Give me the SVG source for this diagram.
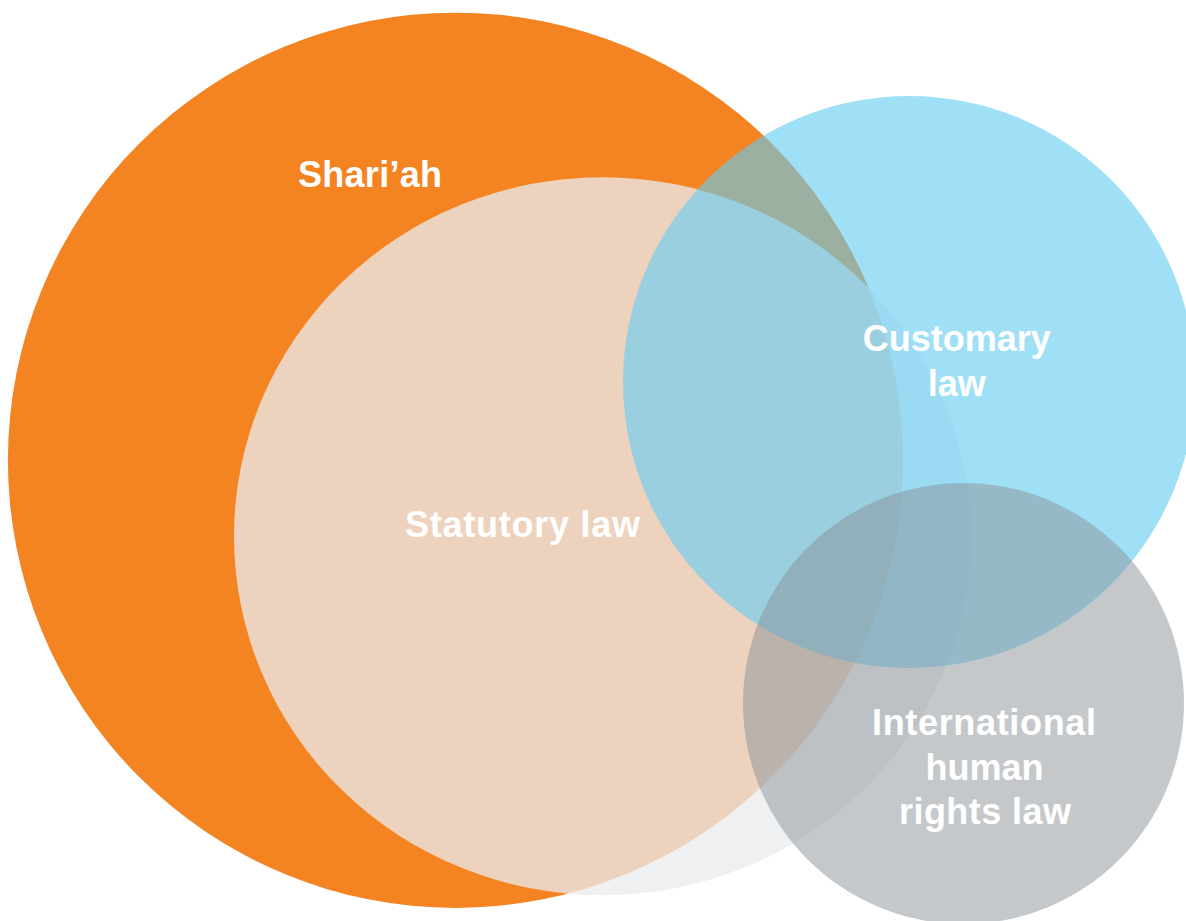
<svg xmlns="http://www.w3.org/2000/svg" width="1186" height="921" viewBox="0 0 1186 921">
<style>
.lbl{font-family:"Liberation Sans",Arial,Helvetica,sans-serif;font-weight:bold;font-size:36px;fill:#ffffff;}
</style>
<rect x="0" y="0" width="1186" height="921" fill="#ffffff"/>
<g id="shariah">
<circle cx="455.5" cy="460.3" r="447.6" fill="#F48422"/>
</g>
<g id="statutory">
<ellipse cx="602.5" cy="536.2" rx="368.5" ry="359" fill="#EAEBEE" fill-opacity="0.77"/>
</g>
<g id="customary">
<circle cx="909" cy="382" r="286" fill="#63CCF2" fill-opacity="0.61"/>
</g>
<g id="ihrl">
<circle cx="963.5" cy="703.5" r="220.5" fill="#899197" fill-opacity="0.5"/>
</g>
<g id="connectors"></g>
<g id="labels">
<text class="lbl" x="298" y="187" textLength="144" lengthAdjust="spacing">Shari’ah</text>
<text class="lbl" x="405" y="537" textLength="235" lengthAdjust="spacing">Statutory law</text>
<text class="lbl" x="956.7" y="351" text-anchor="middle">Customary</text>
<text class="lbl" x="956.7" y="396" text-anchor="middle">law</text>
<text class="lbl" x="872" y="735" textLength="224" lengthAdjust="spacing">International</text>
<text class="lbl" x="984.5" y="780" text-anchor="middle">human</text>
<text class="lbl" x="899" y="824" textLength="172" lengthAdjust="spacing">rights law</text>
</g>
</svg>
